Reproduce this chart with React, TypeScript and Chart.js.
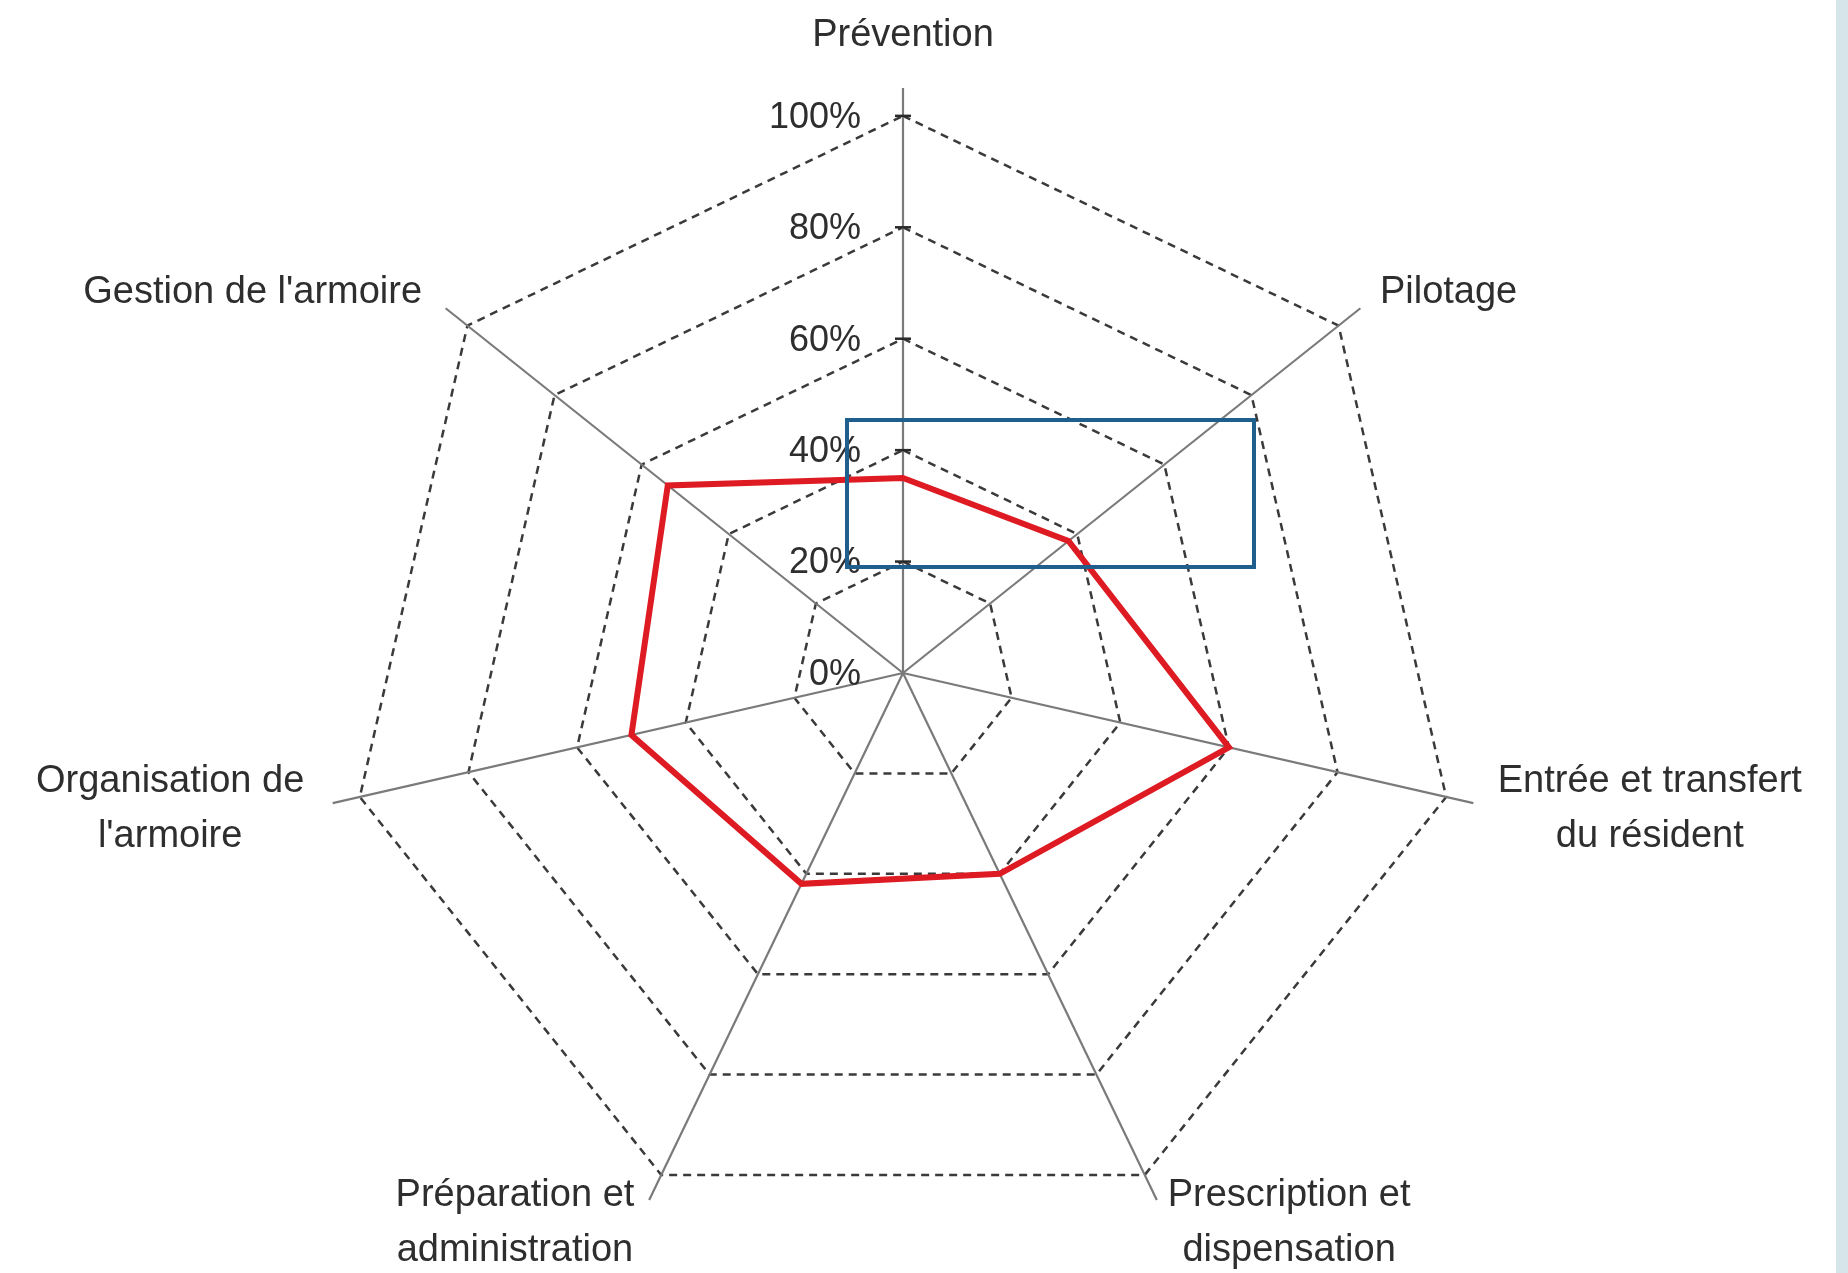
import React, { useEffect, useRef } from "react";
import { Chart, registerables } from "chart.js";

Chart.register(...registerables);

const categories: string[][] = [
  ["Prévention"],
  ["Pilotage"],
  ["Entrée et transfert", "du résident"],
  ["Prescription et", "dispensation"],
  ["Préparation et", "administration"],
  ["Organisation de", "l'armoire"],
  ["Gestion de l'armoire"],
];
const scoreValues = [35, 38, 60, 40, 42, 50, 54];
const tickValues = [0, 20, 40, 60, 80, 100];
const tickLabels = ["0%", "20%", "40%", "60%", "80%", "100%"];

const TEXT_COLOR = "#2e2e2e";
const LABEL_FONT = "38px 'Liberation Sans', Arial, sans-serif";
const TICK_FONT = "36px 'Liberation Sans', Arial, sans-serif";

const labelPlugin = {
  id: "customRadarLabels",
  afterDraw(chart: any) {
    const scale = chart.scales.r;
    const ctx: CanvasRenderingContext2D = chart.ctx;
    ctx.save();
    ctx.font = TICK_FONT;
    ctx.fillStyle = TEXT_COLOR;
    ctx.textAlign = "right";
    ctx.textBaseline = "middle";
    tickValues.forEach((v, i) => {
      const d = scale.getDistanceFromCenterForValue(v);
      const p = scale.getPointPosition(0, d);
      ctx.fillText(tickLabels[i], p.x - 42, p.y + 2);
      if (i > 0) {
        ctx.strokeStyle = "#2a2a2a";
        ctx.lineWidth = 2.5;
        ctx.beginPath();
        ctx.moveTo(p.x - 8, p.y);
        ctx.lineTo(p.x + 8, p.y);
        ctx.stroke();
      }
    });
    ctx.font = LABEL_FONT;
    ctx.textAlign = "center";
    const lh = 55;
    categories.forEach((lines, i) => {
      const p = scale.getPointPosition(i, scale.drawingArea + 25);
      const c = Math.cos(p.angle);
      const s = Math.sin(p.angle);
      const w = Math.max(...lines.map((l) => ctx.measureText(l).width));
      let left: number;
      if (Math.abs(c) < 0.05) left = p.x - w / 2;
      else if (c > 0) left = p.x;
      else left = p.x - w - 4;
      const h = lines.length * lh;
      const top = s < -0.9 ? p.y - h : p.y - h / 2;
      lines.forEach((l, j) => {
        ctx.fillText(l, left + w / 2, top + lh * j + lh / 2);
      });
    });
    ctx.restore();
  },
};

export default function App() {
  const canvasRef = useRef<HTMLCanvasElement | null>(null);

  useEffect(() => {
    if (!canvasRef.current) return;
    const chart = new Chart(canvasRef.current, {
      type: "radar",
      data: {
        labels: categories,
        datasets: [
          {
            label: "Score",
            data: scoreValues,
            borderColor: "#de1a22",
            borderWidth: 6,
            pointRadius: 0,
            pointHoverRadius: 0,
            fill: false,
            tension: 0,
          },
        ],
      },
      options: {
        responsive: false,
        animation: false,
        layout: { padding: { left: 318, right: 360, top: 88, bottom: 15 } },
        plugins: {
          legend: { display: false },
          tooltip: { enabled: false },
        },
        scales: {
          r: {
            min: 0,
            max: 105,
            afterBuildTicks: (scale: any) => {
              scale.ticks = tickValues.map((v) => ({ value: v }));
            },
            ticks: { display: false },
            pointLabels: { display: false },
            grid: { color: "#3a3a3a", lineWidth: 2.5, circular: false },
            border: { dash: [8, 6] },
            angleLines: { color: "#7a7a7a", lineWidth: 2.2 },
          },
        },
      },
      plugins: [labelPlugin],
    } as any);
    return () => chart.destroy();
  }, []);

  return (
    <div
      style={{
        position: "fixed",
        left: 0,
        top: 0,
        width: 1848,
        height: 1273,
        background: "#ffffff",
        overflow: "hidden",
      }}
    >
      <canvas ref={canvasRef} width={1848} height={1273} style={{ display: "block" }} />
      <div
        style={{
          position: "absolute",
          left: 845,
          top: 418,
          width: 411,
          height: 151,
          border: "4px solid #1f5f8d",
          boxSizing: "border-box",
        }}
      />
      <div
        style={{
          position: "absolute",
          left: 1836,
          top: 0,
          width: 12,
          height: 1273,
          background: "#d6e5e9",
        }}
      />
    </div>
  );
}
